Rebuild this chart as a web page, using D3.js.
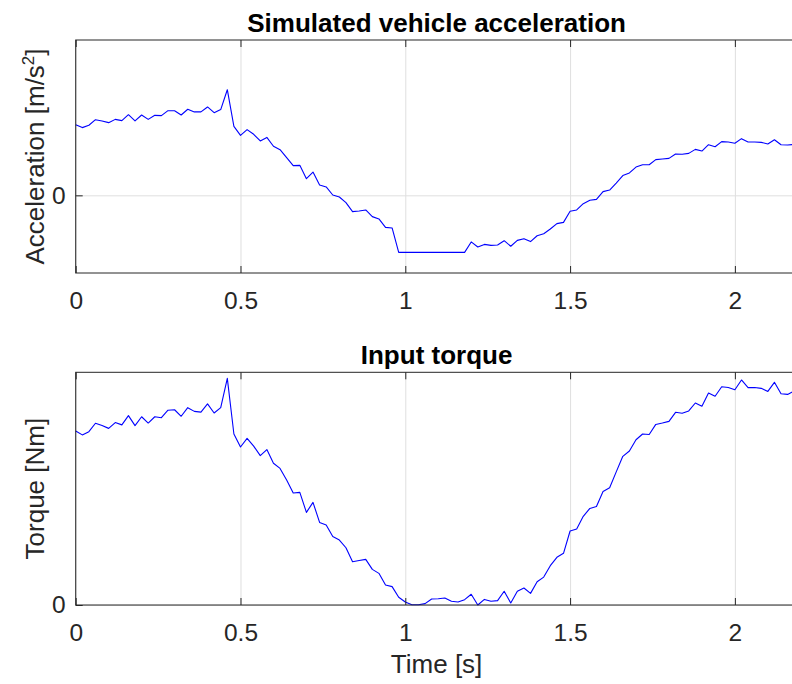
<!DOCTYPE html>
<html>

<head>
    <meta charset="utf-8">
    <title>vehicle acceleration / input torque</title>
    <script src="https://cdn.jsdelivr.net/npm/d3@7"></script>
    <style>
        body {
            margin: 0;
            background: white;
        }

        svg text {
            font-family: "Liberation Sans", Arial, Helvetica, sans-serif;
            fill: #262626;
        }

        .axis path,
        .axis line {
            stroke: #262626;
            stroke-width: 1px;
            fill: none;
        }

        .axis text {
            font-size: 24.5px;
        }

        .grid line {
            stroke: #dfdfdf;
            stroke-width: 1px;
        }

        .grid path {
            display: none;
        }

        .box {
            fill: none;
            stroke: #262626;
            stroke-width: 1px;
        }

        path.signal {
            fill: none;
            stroke: #0000ff;
            stroke-width: 1.1px;
            stroke-linejoin: round;
        }

        .title {
            font-size: 26px;
            font-weight: bold;
            fill: black;
        }

        .label {
            font-size: 26px;
        }
    </style>
</head>

<body>
    <script>
        // sample times [s]
        let time = [
            0.00, 0.02, 0.04, 0.06, 0.08, 0.10, 0.12, 0.14, 0.16, 0.18,
            0.20, 0.22, 0.24, 0.26, 0.28, 0.30, 0.32, 0.34, 0.36, 0.38,
            0.40, 0.42, 0.44, 0.46, 0.48, 0.50, 0.52, 0.54, 0.56, 0.58,
            0.60, 0.62, 0.64, 0.66, 0.68, 0.70, 0.72, 0.74, 0.76, 0.78,
            0.80, 0.82, 0.84, 0.86, 0.88, 0.90, 0.92, 0.94, 0.96, 0.98,
            1.00, 1.02, 1.04, 1.06, 1.08, 1.10, 1.12, 1.14, 1.16, 1.18,
            1.20, 1.22, 1.24, 1.26, 1.28, 1.30, 1.32, 1.34, 1.36, 1.38,
            1.40, 1.42, 1.44, 1.46, 1.48, 1.50, 1.52, 1.54, 1.56, 1.58,
            1.60, 1.62, 1.64, 1.66, 1.68, 1.70, 1.72, 1.74, 1.76, 1.78,
            1.80, 1.82, 1.84, 1.86, 1.88, 1.90, 1.92, 1.94, 1.96, 1.98,
            2.00, 2.02, 2.04, 2.06, 2.08, 2.10, 2.12, 2.14, 2.16, 2.18
        ];

        // vehicle acceleration (no scale shown, only the 0 tick)
        let acceleration = [
            0.455, 0.436, 0.451, 0.487, 0.479, 0.468, 0.489, 0.481, 0.519, 0.479,
            0.517, 0.489, 0.515, 0.513, 0.545, 0.545, 0.517, 0.554, 0.537, 0.537,
            0.569, 0.532, 0.552, 0.680, 0.444, 0.386, 0.423, 0.393, 0.350, 0.373,
            0.316, 0.294, 0.243, 0.191, 0.193, 0.107, 0.150, 0.067, 0.054, 0.002,
            -0.011, -0.047, -0.105, -0.101, -0.094, -0.137, -0.152, -0.206, -0.210, -0.367,
            -0.367, -0.367, -0.367, -0.367, -0.367, -0.367, -0.367, -0.367, -0.367, -0.367,
            -0.300, -0.333, -0.316, -0.322, -0.320, -0.292, -0.328, -0.290, -0.279, -0.298,
            -0.260, -0.247, -0.217, -0.182, -0.174, -0.103, -0.094, -0.054, -0.032, -0.026,
            0.024, 0.034, 0.079, 0.127, 0.144, 0.182, 0.197, 0.197, 0.230, 0.234,
            0.238, 0.266, 0.264, 0.270, 0.296, 0.285, 0.326, 0.313, 0.346, 0.343,
            0.335, 0.365, 0.343, 0.343, 0.341, 0.331, 0.358, 0.326, 0.324, 0.328
        ];

        // input torque (relative)
        let torque = [
            0.748, 0.731, 0.745, 0.781, 0.771, 0.759, 0.784, 0.774, 0.814, 0.771,
            0.809, 0.782, 0.809, 0.805, 0.837, 0.839, 0.811, 0.848, 0.832, 0.829,
            0.864, 0.825, 0.848, 0.974, 0.735, 0.679, 0.716, 0.683, 0.642, 0.668,
            0.609, 0.587, 0.537, 0.481, 0.484, 0.398, 0.441, 0.355, 0.344, 0.294,
            0.279, 0.246, 0.186, 0.191, 0.196, 0.153, 0.136, 0.086, 0.079, 0.033,
            0.013, 0.001, 0.001, 0.006, 0.026, 0.027, 0.030, 0.016, 0.013, 0.023,
            0.046, 0.000, 0.024, 0.016, 0.019, 0.059, 0.009, 0.059, 0.073, 0.050,
            0.100, 0.120, 0.169, 0.205, 0.222, 0.318, 0.327, 0.381, 0.415, 0.423,
            0.488, 0.504, 0.572, 0.639, 0.662, 0.710, 0.735, 0.733, 0.776, 0.782,
            0.789, 0.828, 0.824, 0.834, 0.868, 0.854, 0.911, 0.897, 0.938, 0.935,
            0.925, 0.967, 0.934, 0.935, 0.931, 0.918, 0.957, 0.908, 0.905, 0.920
        ];

        let x_ticks = [0, 0.5, 1, 1.5, 2];
        let y_ticks = [0];
        let x_domain = [0, 2.19];

        let width = 792;
        let height = 684;
        let left = 75.7;
        let right = 797.5; // axes run a little past the edge of the figure

        let svg = d3.select('body').append('svg')
            .attr('width', width)
            .attr('height', height);

        let x_scale = d3.scaleLinear()
            .domain(x_domain)
            .range([left, right]);

        let fmt = d3.format('');

        function panel(cfg) {
            let y_scale = d3.scaleLinear()
                .domain(cfg.y_domain)
                .range([cfg.bottom, cfg.top]);

            let g = svg.append('g');

            // grid
            g.append('g')
                .attr('class', 'grid')
                .attr('transform', 'translate(0,' + cfg.bottom + ')')
                .call(d3.axisBottom(x_scale).tickValues(x_ticks)
                    .tickSize(-(cfg.bottom - cfg.top)).tickFormat(''));
            g.append('g')
                .attr('class', 'grid')
                .attr('transform', 'translate(' + left + ',0)')
                .call(d3.axisLeft(y_scale).tickValues(y_ticks)
                    .tickSize(-(right - left)).tickFormat(''));

            // data
            let line = d3.line()
                .x((d, i) => x_scale(time[i]))
                .y(d => y_scale(d));

            g.append('path')
                .attr('class', 'signal')
                .attr('d', line(cfg.values));

            // box + inward ticks
            g.append('rect')
                .attr('class', 'box')
                .attr('x', left)
                .attr('y', cfg.top)
                .attr('width', right - left)
                .attr('height', cfg.bottom - cfg.top);

            g.append('g')
                .attr('class', 'x axis')
                .attr('transform', 'translate(0,' + cfg.bottom + ')')
                .call(d3.axisBottom(x_scale).tickValues(x_ticks)
                    .tickSize(-7).tickPadding(19).tickFormat(fmt));

            g.append('g')
                .attr('class', 'x axis')
                .attr('transform', 'translate(0,' + cfg.top + ')')
                .call(d3.axisTop(x_scale).tickValues(x_ticks)
                    .tickSize(-7).tickFormat(''));

            g.append('g')
                .attr('class', 'y axis')
                .attr('transform', 'translate(' + left + ',0)')
                .call(d3.axisLeft(y_scale).tickValues(y_ticks)
                    .tickSize(-7).tickPadding(10).tickFormat(fmt));

            g.selectAll('.axis path').remove();

            // title
            g.append('text')
                .attr('class', 'title')
                .attr('x', (left + right) / 2)
                .attr('y', cfg.top - 8.5)
                .attr('text-anchor', 'middle')
                .text(cfg.title);

            // y label
            let yl = g.append('text')
                .attr('class', 'label')
                .attr('text-anchor', 'middle')
                .attr('transform', 'translate(43.5,' + (cfg.top + cfg.bottom) / 2 + ') rotate(-90)');
            cfg.ylabel(yl);

            return g;
        }

        panel({
            top: 40,
            bottom: 273,
            y_domain: [-0.5, 1],
            values: acceleration,
            title: 'Simulated vehicle acceleration',
            ylabel: t => {
                t.append('tspan').text('Acceleration [m/s');
                t.append('tspan').attr('dy', -10).attr('font-size', '17px').text('2');
                t.append('tspan').attr('dy', 10).text(']');
            }
        });

        panel({
            top: 372.3,
            bottom: 605,
            y_domain: [0, 1],
            values: torque,
            title: 'Input torque',
            ylabel: t => t.text('Torque [Nm]')
        });

        svg.append('text')
            .attr('class', 'label')
            .attr('x', (left + right) / 2)
            .attr('y', 673)
            .attr('text-anchor', 'middle')
            .text('Time [s]');
    </script>
</body>

</html>
